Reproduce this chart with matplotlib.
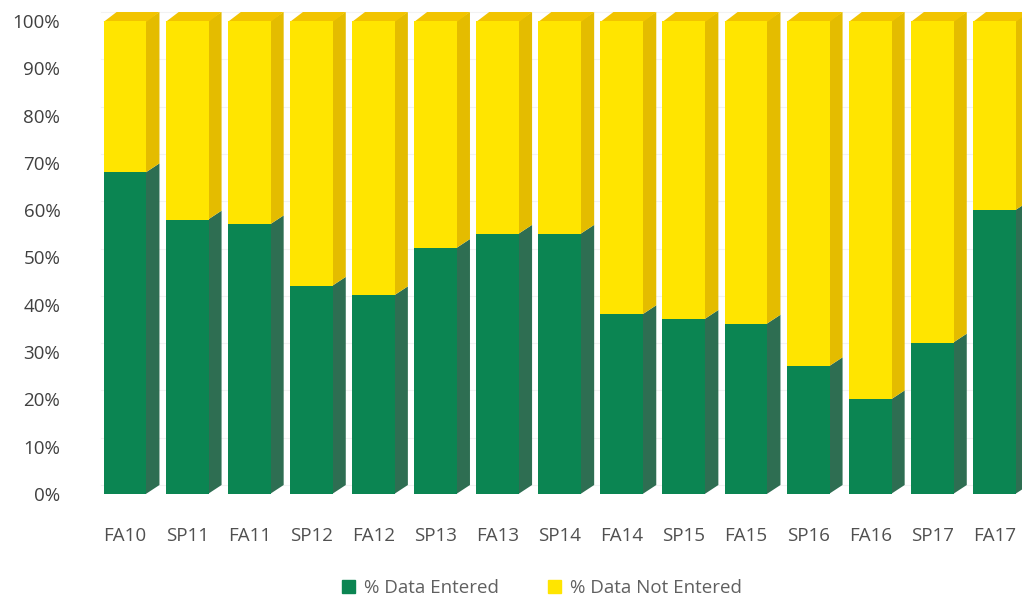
import numpy as np
import matplotlib.pyplot as plt
from matplotlib.patches import Polygon, Patch

terms = ['FA10', 'SP11', 'FA11', 'SP12', 'FA12', 'SP13', 'FA13', 'SP14',
         'FA14', 'SP15', 'FA15', 'SP16', 'FA16', 'SP17', 'FA17']
pct_entered = [68, 58, 57, 44, 42, 52, 55, 55, 38, 37, 36, 27, 20, 32, 60]
pct_not_entered = [100 - v for v in pct_entered]

green, green_side = '#0b8552', '#2e6e52'
yellow, yellow_side, yellow_top = '#ffe500', '#e4bc00', '#f2c400'

fig = plt.figure(figsize=(10.22, 6.01), dpi=100)
ax = fig.add_axes([70 / 1022, 107 / 601, 952 / 1022, 484 / 601])

x = np.arange(len(terms))
w = 0.69    # front face width
dx = 0.21   # depth, x
dy = 1.9    # depth, y

# faint back grid
for g in range(0, 101, 10):
    ax.plot([-0.6 + dx, 14.6], [g + dy, g + dy], color='#f2f2f2', lw=0.8, zorder=0)

ax.bar(x, pct_entered, width=w, color=green, lw=0, zorder=2)
ax.bar(x, pct_not_entered, width=w, bottom=pct_entered, color=yellow, lw=0, zorder=2)

for xi, g in zip(x, pct_entered):
    r = xi + w / 2
    l = xi - w / 2
    ax.add_patch(Polygon([(r - 0.01, 0), (r + dx, dy), (r + dx, g + dy), (r - 0.01, g)],
                         closed=True, color=green_side, lw=0, zorder=1))
    ax.add_patch(Polygon([(r - 0.01, g), (r + dx, g + dy), (r + dx, 100 + dy), (r - 0.01, 100)],
                         closed=True, color=yellow_side, lw=0, zorder=1))
    ax.add_patch(Polygon([(l, 99.8), (l + dx, 100 + dy), (r + dx, 100 + dy), (r, 99.8)],
                         closed=True, color=yellow_top, lw=0, zorder=1))

ax.set_xlim((70 - 125) / 62.1, (1022 - 125) / 62.1)
ax.set_ylim(0, (494 - 10) / 4.73)
ax.set_yticks(range(0, 101, 10))
ax.set_yticklabels([f'{v}%' for v in range(0, 101, 10)])
ax.set_xticks(x)
ax.set_xticklabels(terms)
ax.tick_params(length=0)
ax.tick_params(axis='y', labelsize=13.5, labelcolor='#404040', pad=7)
ax.tick_params(axis='x', labelsize=13.5, labelcolor='#505050', pad=24)
for lab in ax.get_xticklabels() + ax.get_yticklabels():
    lab.set_family('Open Sans')
for s in ax.spines.values():
    s.set_visible(False)

handles = [Patch(color=green, label='% Data Entered'),
           Patch(color=yellow, label='% Data Not Entered')]
fig.legend(handles=handles, loc='center', bbox_to_anchor=(542 / 1022, 1 - 588 / 601),
           ncol=2, frameon=False, handlelength=0.7, handleheight=0.7,
           columnspacing=2.6, handletextpad=0.5,
           prop={'family': 'Open Sans', 'size': 13.5}, labelcolor='#606060')

fig.savefig('out.png', dpi=100)
